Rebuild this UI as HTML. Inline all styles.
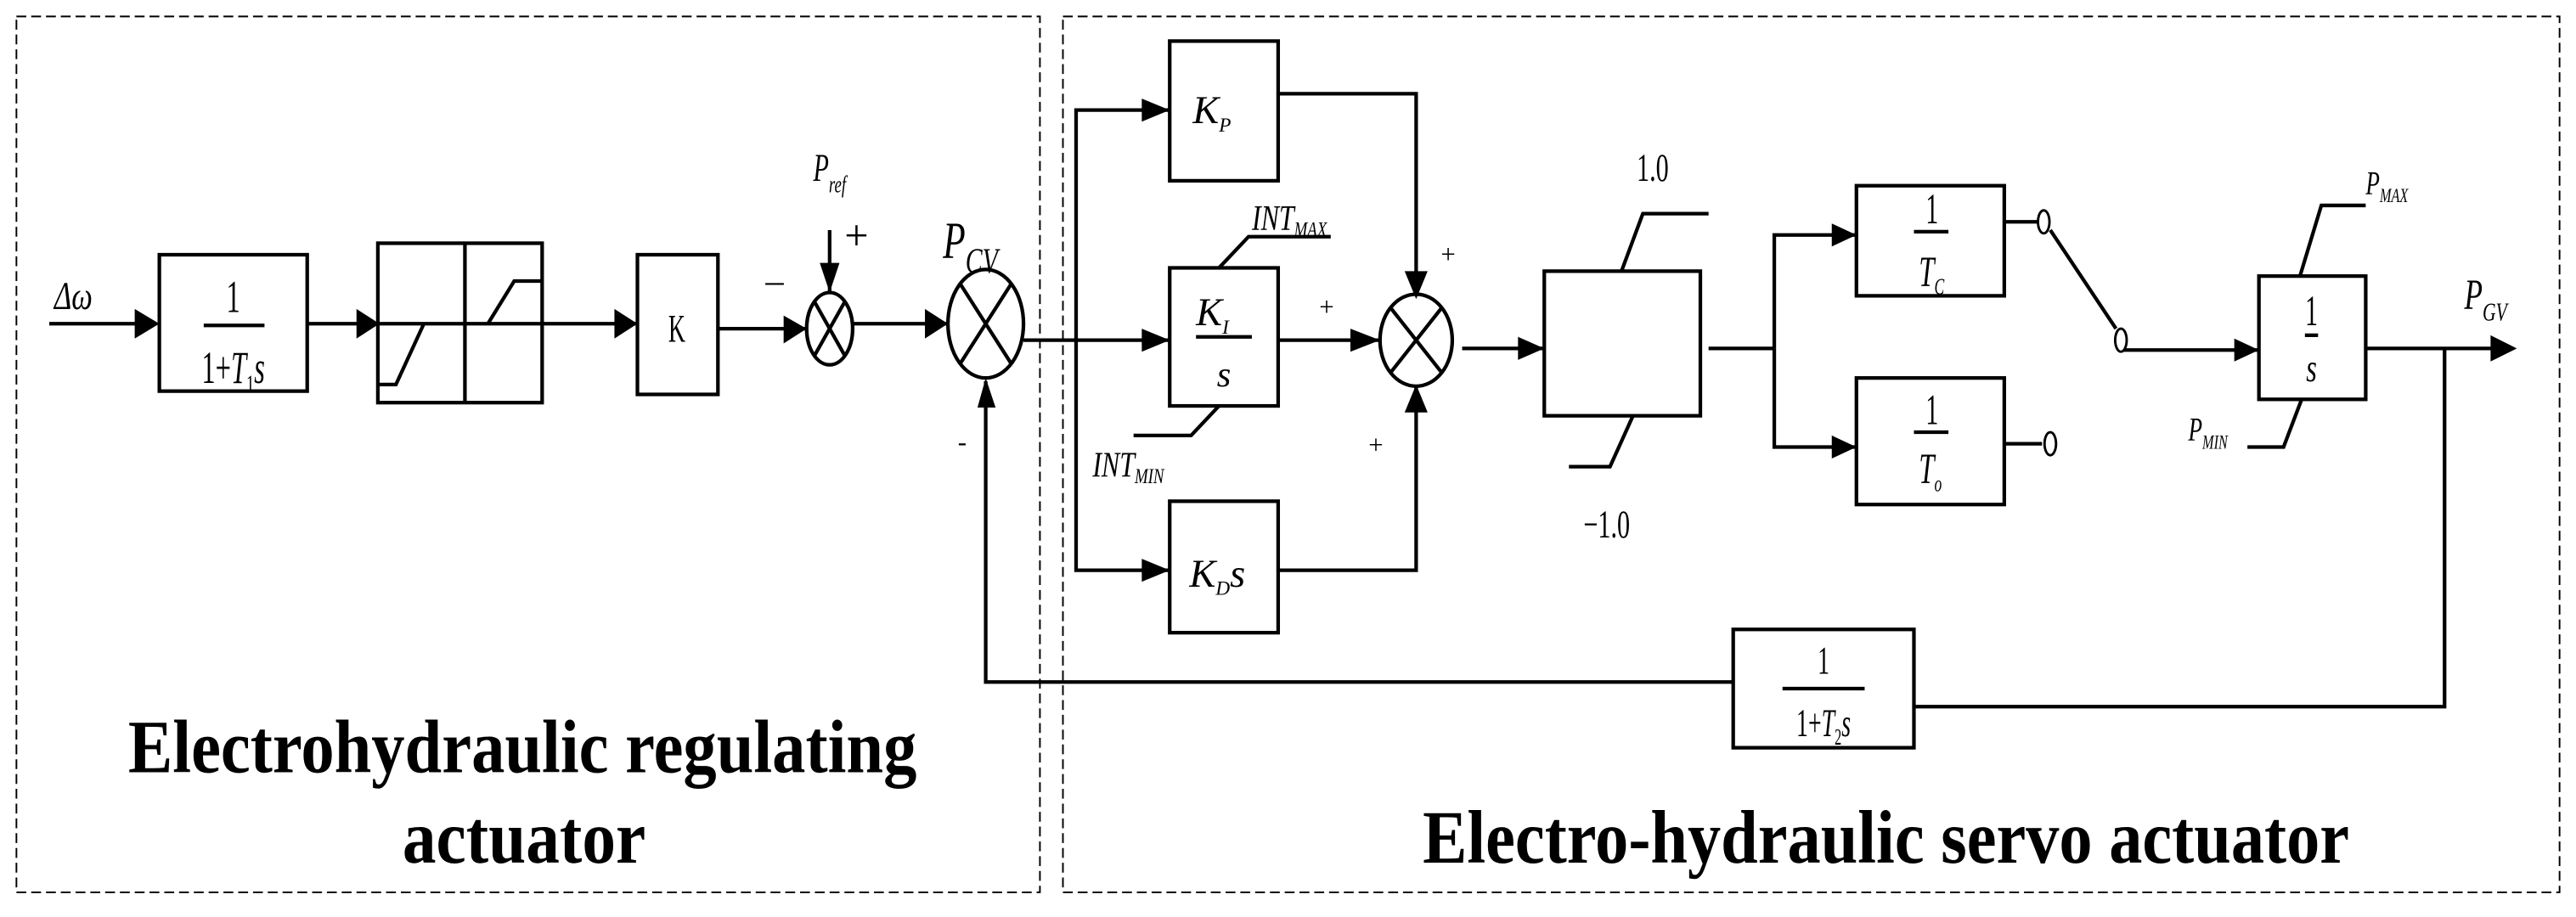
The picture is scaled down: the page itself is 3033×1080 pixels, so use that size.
<!DOCTYPE html>
<html><head><meta charset="utf-8"><style>
html,body{margin:0;padding:0;background:#fff;}
svg{display:block;}
text{font-family:"Liberation Serif",serif;fill:#000;}
.i{font-style:italic;}
</style></head><body>
<svg width="3033" height="1080" viewBox="0 0 1568 558" preserveAspectRatio="none" xmlns="http://www.w3.org/2000/svg">
<rect width="1568" height="558" fill="#fff"/>
<g fill="none" stroke="#000" stroke-width="1" stroke-dasharray="6,3">
<rect x="10" y="10" width="623" height="533"/>
<rect x="647" y="10" width="911" height="533"/>
</g>
<g fill="none" stroke="#000" stroke-width="2.2">
<line x1="30" y1="197" x2="95" y2="197"/>
<rect x="97" y="155" width="90" height="83"/>
<line x1="124" y1="198" x2="161" y2="198"/>
<line x1="187" y1="197" x2="230" y2="197"/>
<rect x="230" y="148" width="100" height="97"/>
<line x1="283" y1="148" x2="283" y2="245"/>
<line x1="230" y1="197" x2="388" y2="197"/>
<polyline points="231,234 241,234 258,197"/>
<polyline points="297,197 313,171 330,171"/>
<rect x="388" y="155" width="49" height="85"/>
<line x1="437" y1="200" x2="490" y2="200"/>
<ellipse cx="505" cy="200" rx="14" ry="22"/>
<line x1="496" y1="184" x2="514" y2="216"/><line x1="514" y1="184" x2="496" y2="216"/>
<line x1="505" y1="140" x2="505" y2="178"/>
<line x1="519" y1="197" x2="577" y2="197"/>
<ellipse cx="600" cy="197" rx="23" ry="33"/>
<line x1="584" y1="172" x2="616" y2="222"/><line x1="616" y1="172" x2="584" y2="222"/>
<polyline points="1488,212 1488,430 1165,430"/>
<rect x="1055" y="383" width="110" height="72"/>
<line x1="1085" y1="419" x2="1135" y2="419"/>
<polyline points="1055,415 600,415 600,232"/>
<line x1="623" y1="207" x2="712" y2="207"/>
<polyline points="655,207 655,67 712,67"/>
<polyline points="655,207 655,347 712,347"/>
<rect x="712" y="25" width="66" height="85"/>
<rect x="712" y="163" width="66" height="84"/>
<line x1="728" y1="205" x2="762" y2="205"/>
<rect x="712" y="305" width="66" height="80"/>
<polyline points="742,163 760,144 810,144"/>
<polyline points="742,247 725,265 690,265"/>
<polyline points="778,57 862,57 862,180"/>
<line x1="778" y1="207" x2="840" y2="207"/>
<polyline points="778,347 862,347 862,235"/>
<ellipse cx="862" cy="207" rx="22" ry="28"/>
<line x1="847" y1="188" x2="877" y2="226"/><line x1="877" y1="188" x2="847" y2="226"/>
<line x1="890" y1="212" x2="940" y2="212"/>
<rect x="940" y="165" width="95" height="88"/>
<polyline points="987,165 1000,130 1040,130"/>
<polyline points="994,253 980,284 955,284"/>
<line x1="1040" y1="212" x2="1080" y2="212"/>
<polyline points="1080,212 1080,143 1130,143"/>
<polyline points="1080,212 1080,272 1130,272"/>
<rect x="1130" y="113" width="90" height="67"/>
<line x1="1165" y1="141" x2="1186" y2="141"/>
<rect x="1130" y="230" width="90" height="77"/>
<line x1="1165" y1="263" x2="1186" y2="263"/>
<line x1="1220" y1="135" x2="1240" y2="135"/>
<line x1="1220" y1="270" x2="1243" y2="270"/>
<line x1="1248" y1="140" x2="1288" y2="200"/>
<line x1="1292" y1="213" x2="1375" y2="213"/>
<rect x="1375" y="168" width="65" height="75"/>
<line x1="1403" y1="204" x2="1411" y2="204"/>
<polyline points="1400,168 1413,125 1440,125"/>
<polyline points="1401,243 1390,272 1368,272"/>
<line x1="1440" y1="212" x2="1530" y2="212"/>
</g>
<g fill="#fff" stroke="#000" stroke-width="1.5">
<ellipse cx="1244" cy="135" rx="3.5" ry="7"/>
<ellipse cx="1291" cy="207" rx="3.5" ry="7"/>
<ellipse cx="1248" cy="270" rx="3.5" ry="7"/>
</g>
<g fill="#000">
<path d="M82,188L97,197L82,206z"/>
<path d="M217,188L231,197L217,206z"/>
<path d="M374,188L388,197L374,206z"/>
<path d="M477,192L491,200L477,209z"/>
<path d="M499,160L505,178L511,160z"/>
<path d="M563,188L577,197L563,206z"/>
<path d="M595,248L600,230L606,248z"/>
<path d="M695,200L712,207L695,214z"/>
<path d="M695,60L712,67L695,74z"/>
<path d="M695,340L712,347L695,354z"/>
<path d="M855,165L862,182L869,165z"/>
<path d="M822,200L840,207L822,214z"/>
<path d="M855,251L862,234L869,251z"/>
<path d="M924,205L940,212L924,219z"/>
<path d="M1115,136L1130,143L1115,150z"/>
<path d="M1115,265L1130,272L1115,279z"/>
<path d="M1360,206L1375,213L1360,220z"/>
<path d="M1516,204L1532,212L1516,220z"/>
</g>
<text x="33" y="188" class="i" font-size="24" transform="translate(33,0) scale(0.75,1) translate(-33,0)">Δω</text>
<text x="142" y="190" font-size="28" text-anchor="middle" transform="translate(142,0) scale(0.6,1) translate(-142,0)">1</text>
<text x="142" y="233" font-size="28" text-anchor="middle" transform="translate(142,0) scale(0.6,1) translate(-142,0)">1+<tspan class="i">T</tspan><tspan font-size="16" dy="6">1</tspan><tspan class="i" dy="-6">s</tspan></text>
<text x="412" y="208" font-size="24" text-anchor="middle" transform="translate(412,0) scale(0.6,1) translate(-412,0)">K</text>
<text x="466" y="178" font-size="22">–</text>
<text x="495" y="110" class="i" font-size="24" transform="translate(495,0) scale(0.65,1) translate(-495,0)">P<tspan font-size="15" dy="7">ref</tspan></text>
<text x="514" y="152" font-size="26">+</text>
<text x="574" y="157" class="i" font-size="32" transform="translate(574,0) scale(0.7,1) translate(-574,0)">P<tspan font-size="22" dy="9">CV</tspan></text>
<text x="583" y="274" font-size="16">-</text>
<text x="1110" y="410" font-size="24" text-anchor="middle" transform="translate(1110,0) scale(0.6,1) translate(-1110,0)">1</text>
<text x="1110" y="448" font-size="24" text-anchor="middle" transform="translate(1110,0) scale(0.6,1) translate(-1110,0)">1+<tspan class="i">T</tspan><tspan font-size="14" dy="5">2</tspan><tspan class="i" dy="-5">s</tspan></text>
<text x="726" y="75" class="i" font-size="24">K<tspan font-size="12" dy="5">P</tspan></text>
<text x="728" y="198" class="i" font-size="24">K<tspan font-size="12" dy="5">I</tspan></text>
<text x="745" y="235" class="i" font-size="22" text-anchor="middle">s</text>
<text x="724" y="357" class="i" font-size="24">K<tspan font-size="12" dy="5">D</tspan><tspan dy="-5">s</tspan></text>
<text x="762" y="140" class="i" font-size="22" transform="translate(762,0) scale(0.75,1) translate(-762,0)">INT<tspan font-size="13" dy="4">MAX</tspan></text>
<text x="665" y="290" class="i" font-size="22" transform="translate(665,0) scale(0.75,1) translate(-665,0)">INT<tspan font-size="13" dy="4">MIN</tspan></text>
<text x="877" y="160" font-size="16">+</text>
<text x="803" y="192" font-size="16">+</text>
<text x="833" y="276" font-size="16">+</text>
<text x="1006" y="110" font-size="24" text-anchor="middle" transform="translate(1006,0) scale(0.65,1) translate(-1006,0)">1.0</text>
<text x="978" y="327" font-size="24" text-anchor="middle" transform="translate(978,0) scale(0.65,1) translate(-978,0)">−1.0</text>
<text x="1176" y="136" font-size="26" text-anchor="middle" transform="translate(1176,0) scale(0.6,1) translate(-1176,0)">1</text>
<text x="1168" y="174" class="i" font-size="26" transform="translate(1168,0) scale(0.65,1) translate(-1168,0)">T<tspan font-size="14" dy="5">C</tspan></text>
<text x="1176" y="258" font-size="26" text-anchor="middle" transform="translate(1176,0) scale(0.6,1) translate(-1176,0)">1</text>
<text x="1168" y="294" class="i" font-size="26" transform="translate(1168,0) scale(0.65,1) translate(-1168,0)">T<tspan font-size="14" dy="5">o</tspan></text>
<text x="1407" y="198" font-size="26" text-anchor="middle" transform="translate(1407,0) scale(0.6,1) translate(-1407,0)">1</text>
<text x="1407" y="232" class="i" font-size="24" text-anchor="middle" transform="translate(1407,0) scale(0.7,1) translate(-1407,0)">s</text>
<text x="1440" y="118" class="i" font-size="20" transform="translate(1440,0) scale(0.7,1) translate(-1440,0)">P<tspan font-size="12" dy="5">MAX</tspan></text>
<text x="1332" y="268" class="i" font-size="20" transform="translate(1332,0) scale(0.7,1) translate(-1332,0)">P<tspan font-size="12" dy="5">MIN</tspan></text>
<text x="1500" y="188" class="i" font-size="26" transform="translate(1500,0) scale(0.7,1) translate(-1500,0)">P<tspan font-size="16" dy="7">GV</tspan></text>
<text x="78" y="470" font-size="46" font-weight="bold" textLength="480" lengthAdjust="spacingAndGlyphs">Electrohydraulic regulating</text>
<text x="245" y="525" font-size="46" font-weight="bold" textLength="148" lengthAdjust="spacingAndGlyphs">actuator</text>
<text x="866" y="525" font-size="46" font-weight="bold" textLength="564" lengthAdjust="spacingAndGlyphs">Electro-hydraulic servo actuator</text>
</svg>
</body></html>
